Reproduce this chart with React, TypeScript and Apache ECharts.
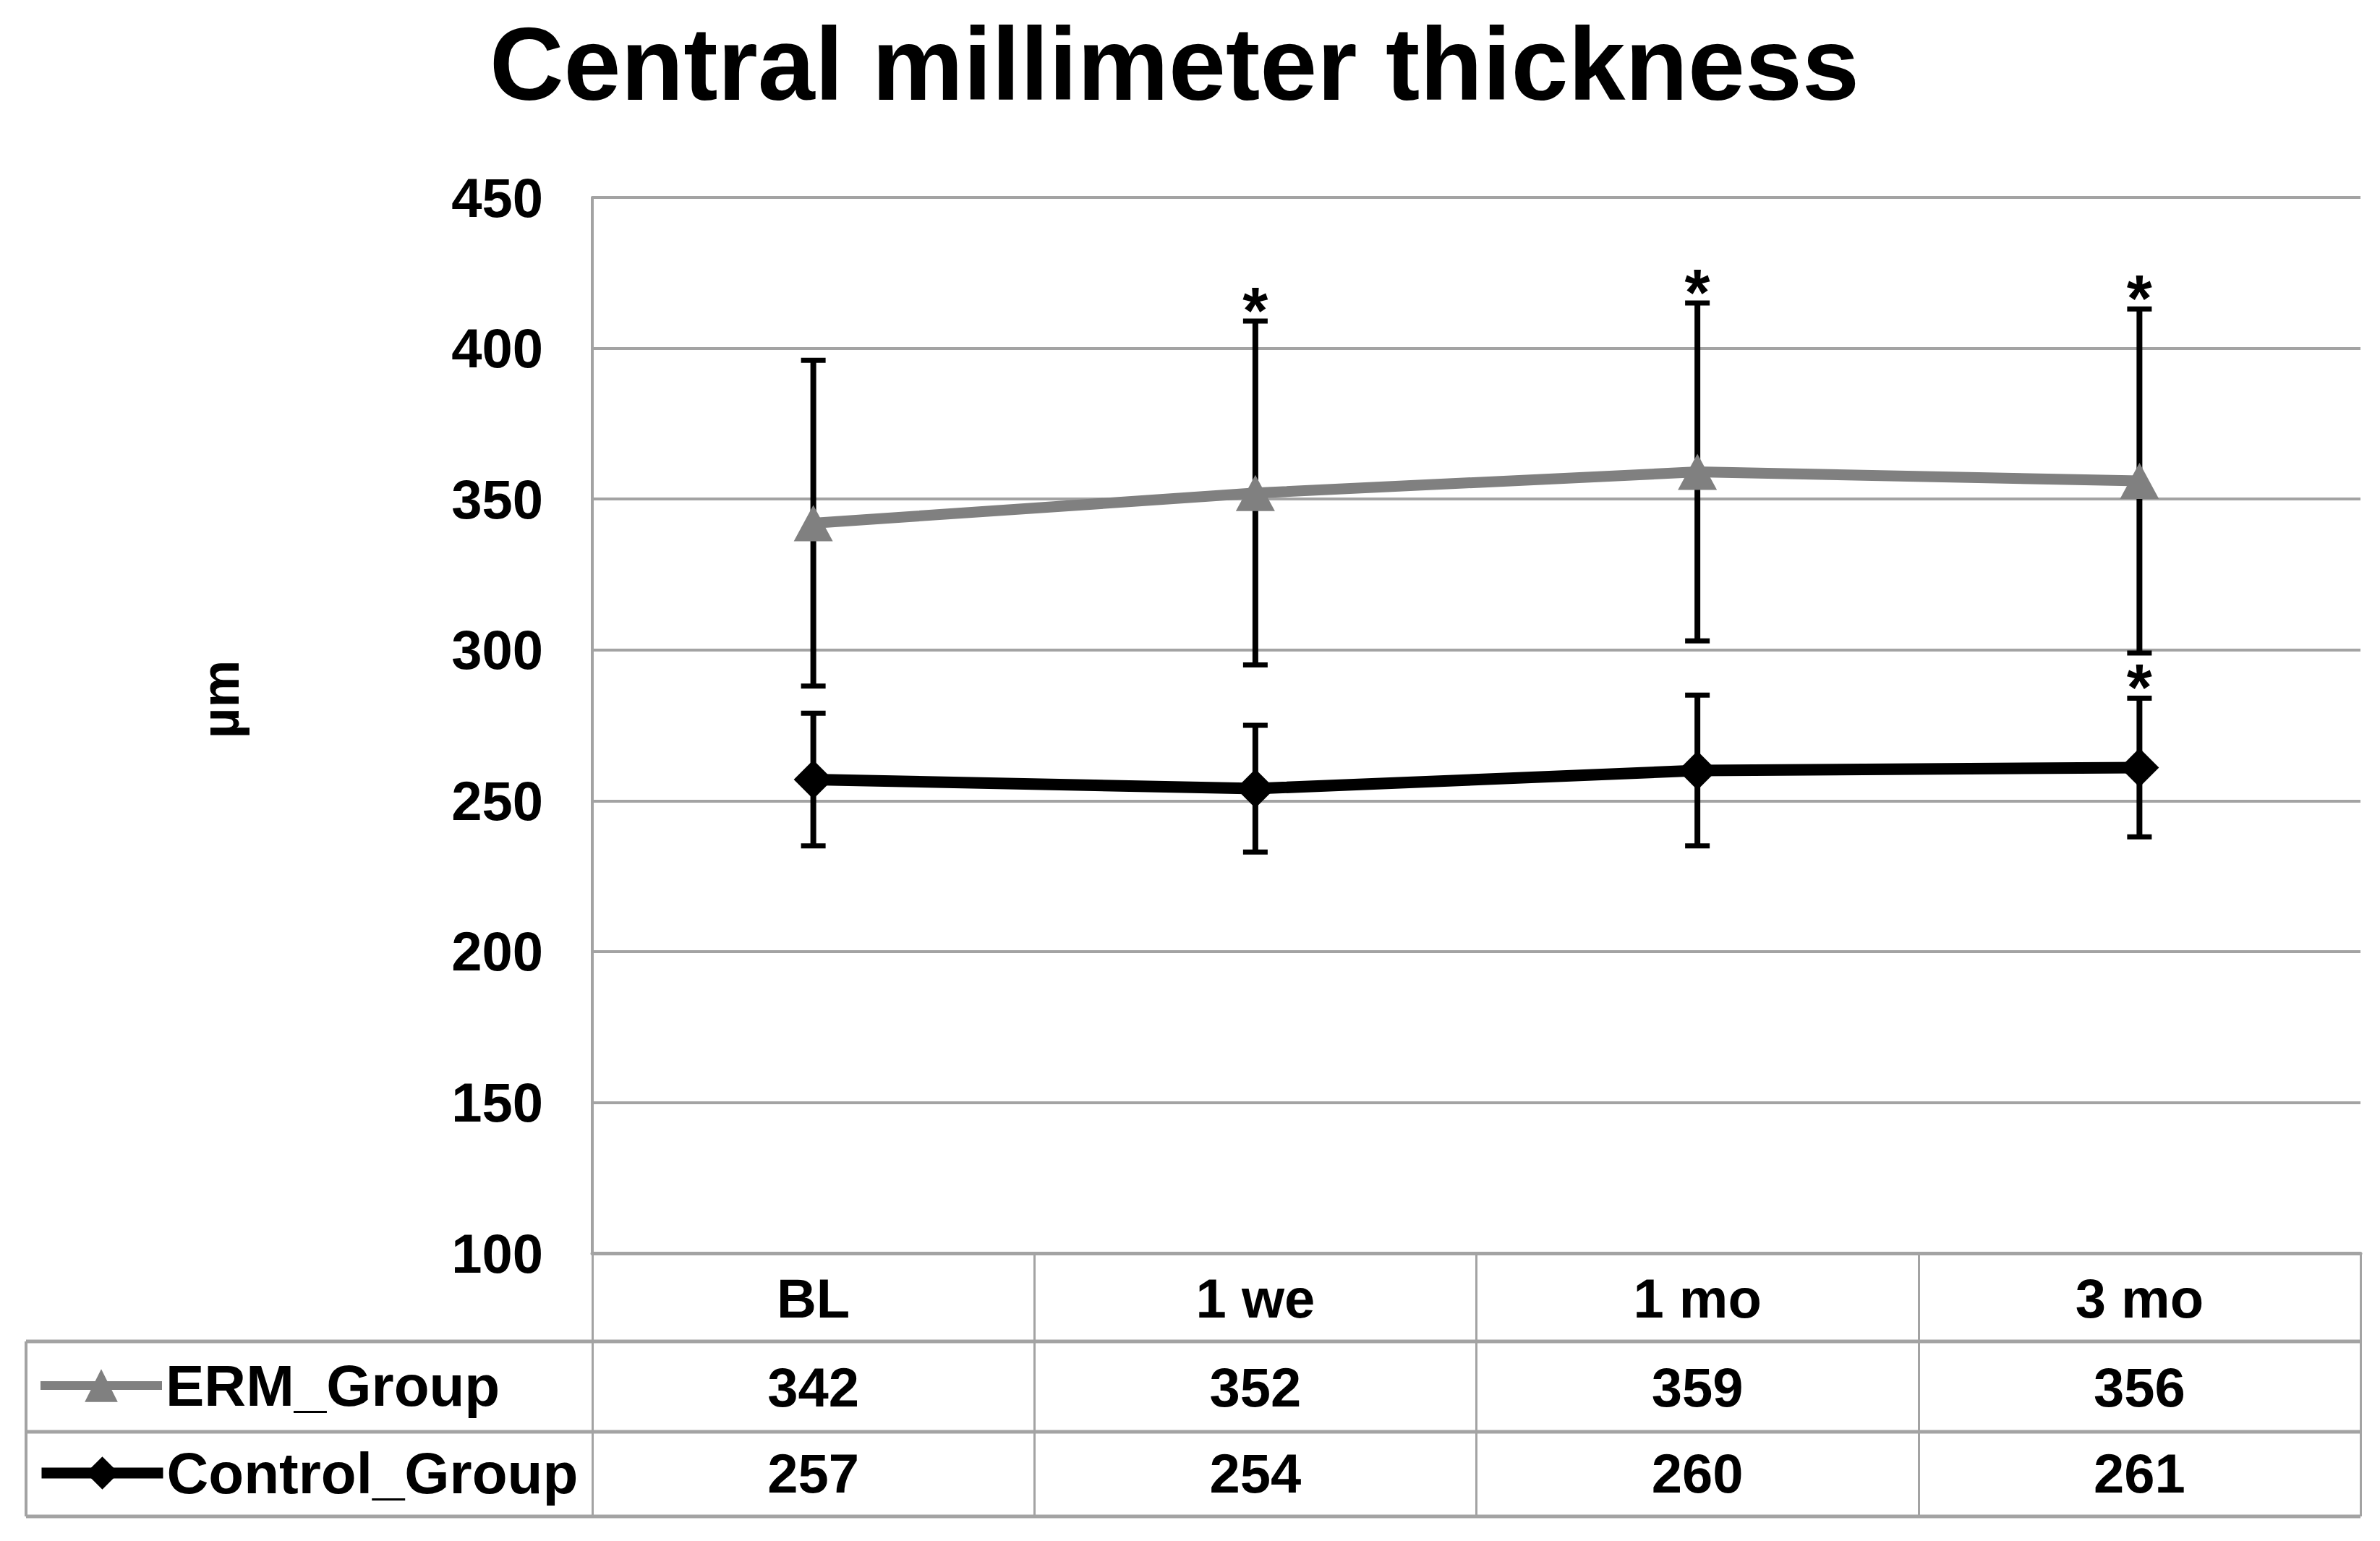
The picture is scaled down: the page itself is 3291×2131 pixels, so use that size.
import React, { useEffect, useRef } from "react";
import * as echarts from "echarts";

const TITLE = "Central millimeter thickness";
const Y_NAME = "µm";
const CATEGORIES = ["BL", "1 we", "1 mo", "3 mo"];
const SERIES_NAMES = ["ERM_Group", "Control_Group"];
const ERM_MEAN = [342, 352, 359, 356];
const ERM_SD = [54, 57, 56, 57];
const ERM_SIG = [false, true, true, true];
const CTRL_MEAN = [257, 254, 260, 261];
const CTRL_SD = [22, 21, 25, 23];
const CTRL_SIG = [false, false, false, true];
const Y_MIN = 100;
const Y_MAX = 450;
const Y_STEP = 50;

const W = 3291;
const H = 2131;
const GRID_LEFT = 819;
const GRID_RIGHT_X = 3264;
const GRID_TOP = 273;
const GRID_BOTTOM = 1733;
const TABLE_LEFT = 36;
const ROW_LINES = [1855, 1980, 2097];
const LEGEND_ROW_CENTERS = [1917, 2038];
const FONT = '"Liberation Sans", Arial, sans-serif';
const GRAY = "#a3a3a3";

function errorBarData(mean: number[], sd: number[], sig: boolean[]) {
  return mean.map((m, i) => [i, m, sd[i], sig[i] ? 1 : 0]);
}

function renderErrorBar(params: any, api: any) {
  const idx = api.value(0);
  const mean = api.value(1);
  const sd = api.value(2);
  const star = api.value(3);
  const top = api.coord([idx, mean + sd]);
  const bot = api.coord([idx, mean - sd]);
  const half = 17;
  const children: any[] = [
    { type: "line", shape: { x1: top[0], y1: top[1], x2: bot[0], y2: bot[1] }, style: { stroke: "#000", lineWidth: 8 } },
    { type: "line", shape: { x1: top[0] - half, y1: top[1], x2: top[0] + half, y2: top[1] }, style: { stroke: "#000", lineWidth: 7 } },
    { type: "line", shape: { x1: bot[0] - half, y1: bot[1], x2: bot[0] + half, y2: bot[1] }, style: { stroke: "#000", lineWidth: 7 } },
  ];
  if (star) {
    children.push({
      type: "text",
      x: top[0],
      y: top[1] - 14,
      style: {
        text: "*",
        fontSize: 90,
        fontWeight: "bold",
        fontFamily: FONT,
        fill: "#000",
        align: "center",
        verticalAlign: "middle",
        textAlign: "center",
        textVerticalAlign: "middle",
      },
    });
  }
  return { type: "group", children };
}

export default function App() {
  const ref = useRef<HTMLDivElement>(null);
  useEffect(() => {
    if (!ref.current) return;
    const chart = echarts.init(ref.current, null, { renderer: "svg" });
    const labelStyle = { fontSize: 76, fontWeight: "bold", color: "#000", fontFamily: FONT };
    const tableLines: any[] = ROW_LINES.map((y) => ({
      type: "line",
      shape: { x1: TABLE_LEFT, y1: y, x2: GRID_RIGHT_X, y2: y },
      style: { stroke: GRAY, lineWidth: 5 },
    }));
    tableLines.push({
      type: "line",
      shape: { x1: TABLE_LEFT, y1: ROW_LINES[0], x2: TABLE_LEFT, y2: ROW_LINES[ROW_LINES.length - 1] },
      style: { stroke: GRAY, lineWidth: 4 },
    });
    const legendWidths = [12, 15];
    const legends = SERIES_NAMES.map((name, i) => ({
      data: [{ name, lineStyle: { width: legendWidths[i] } }],
      orient: "vertical",
      left: 50,
      top: LEGEND_ROW_CENTERS[i] - 41,
      padding: 0,
      itemWidth: 168,
      itemHeight: 57,
      lineStyle: { width: legendWidths[i] },
      textStyle: { ...labelStyle, fontSize: 80 },
    }));
    const option: any = {
      animation: false,
      backgroundColor: "#fff",
      textStyle: { fontFamily: FONT },
      grid: {
        left: GRID_LEFT,
        right: W - GRID_RIGHT_X,
        top: GRID_TOP,
        bottom: H - GRID_BOTTOM,
        containLabel: false,
      },
      legend: legends,
      xAxis: [
        {
          type: "category",
          data: CATEGORIES,
          position: "bottom",
          boundaryGap: true,
          axisLine: { show: true, lineStyle: { color: GRAY, width: 5 } },
          axisTick: { show: true, interval: 0, length: ROW_LINES[ROW_LINES.length - 1] - GRID_BOTTOM, lineStyle: { color: GRAY, width: 3 } },
          axisLabel: { ...labelStyle, interval: 0, margin: 62, verticalAlign: "middle" },
          splitLine: { show: false },
        },
        {
          type: "category",
          data: CATEGORIES,
          position: "bottom",
          boundaryGap: true,
          axisLine: { show: false },
          axisTick: { show: false },
          axisLabel: {
            ...labelStyle,
            interval: 0,
            margin: 185,
            verticalAlign: "middle",
            formatter: (_v: string, i: number) => String(ERM_MEAN[i]),
          },
        },
        {
          type: "category",
          data: CATEGORIES,
          position: "bottom",
          boundaryGap: true,
          axisLine: { show: false },
          axisTick: { show: false },
          axisLabel: {
            ...labelStyle,
            interval: 0,
            margin: 304,
            verticalAlign: "middle",
            formatter: (_v: string, i: number) => String(CTRL_MEAN[i]),
          },
        },
      ],
      yAxis: {
        type: "value",
        min: Y_MIN,
        max: Y_MAX,
        interval: Y_STEP,
        axisLine: { show: true, lineStyle: { color: GRAY, width: 4 } },
        axisTick: { show: false },
        axisLabel: { ...labelStyle, margin: 68 },
        splitLine: { show: true, lineStyle: { color: GRAY, width: 4 } },
      },
      series: [
        {
          type: "custom",
          name: "errERM",
          xAxisIndex: 0,
          data: errorBarData(ERM_MEAN, ERM_SD, ERM_SIG),
          encode: { x: 0, y: 1 },
          renderItem: renderErrorBar,
          clip: false,
          z: 1,
          silent: true,
        },
        {
          type: "custom",
          name: "errCtrl",
          xAxisIndex: 0,
          data: errorBarData(CTRL_MEAN, CTRL_SD, CTRL_SIG),
          encode: { x: 0, y: 1 },
          renderItem: renderErrorBar,
          clip: false,
          z: 1,
          silent: true,
        },
        {
          type: "line",
          name: SERIES_NAMES[0],
          xAxisIndex: 0,
          data: ERM_MEAN,
          symbol: "triangle",
          symbolSize: [54, 50],
          itemStyle: { color: "#808080" },
          lineStyle: { color: "#808080", width: 15 },
          z: 3,
        },
        {
          type: "line",
          name: SERIES_NAMES[1],
          xAxisIndex: 0,
          data: CTRL_MEAN,
          symbol: "diamond",
          symbolSize: [54, 54],
          itemStyle: { color: "#000" },
          lineStyle: { color: "#000", width: 16 },
          z: 3,
        },
      ],
      graphic: [
        {
          type: "text",
          x: 1624,
          y: 88,
          style: {
            text: TITLE,
            fontSize: 142,
            fontWeight: "bold",
            fontFamily: FONT,
            fill: "#000",
            align: "center",
            verticalAlign: "middle",
            textAlign: "center",
            textVerticalAlign: "middle",
          },
        },
        {
          type: "text",
          x: 304,
          y: 967,
          rotation: Math.PI / 2,
          style: {
            text: Y_NAME,
            fontSize: 74,
            fontWeight: "bold",
            fontFamily: FONT,
            fill: "#000",
            align: "center",
            verticalAlign: "middle",
            textAlign: "center",
            textVerticalAlign: "middle",
          },
        },
        ...tableLines,
      ],
    };
    chart.setOption(option);
    return () => chart.dispose();
  }, []);
  return (
    <div
      ref={ref}
      style={{ position: "fixed", left: 0, top: 0, width: W, height: H, background: "#fff" }}
    />
  );
}
